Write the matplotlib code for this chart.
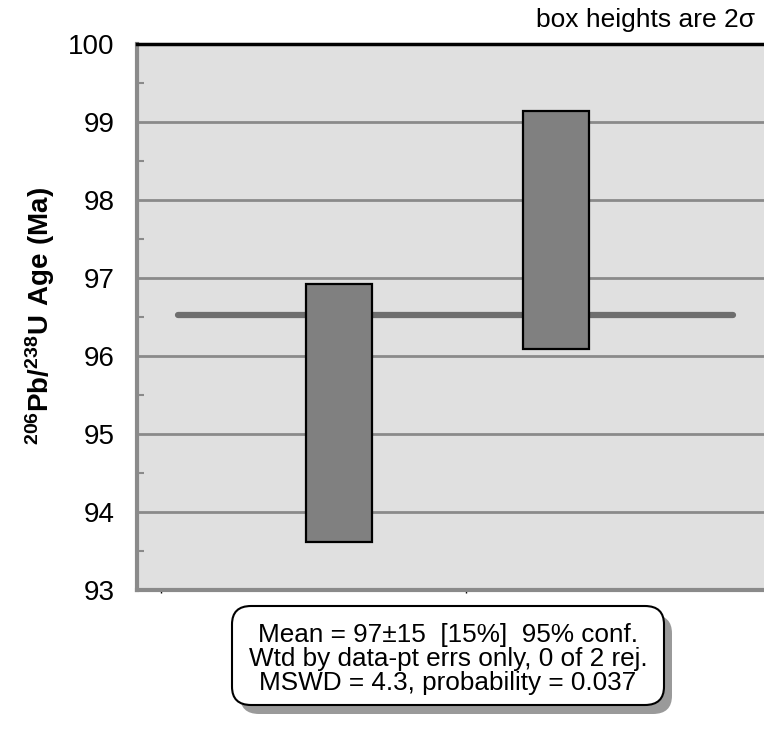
import matplotlib
matplotlib.use('Agg')
import matplotlib.pyplot as plt
from matplotlib.patches import FancyBboxPatch, Rectangle

plt.rcParams['font.family'] = ['Liberation Sans', 'DejaVu Sans']
plt.rcParams['mathtext.fontset'] = 'custom'
plt.rcParams['mathtext.rm'] = 'Liberation Sans'
plt.rcParams['mathtext.bf'] = 'Liberation Sans:bold'

# data: two analyses, 2-sigma box limits (Ma)
spot_pos = [1, 2]
box_low = [93.62, 96.09]
box_high = [96.92, 99.14]
wtd_mean = 96.53
y_ticks = [93, 94, 95, 96, 97, 98, 99, 100]
stats_lines = ['Mean = 97\u00b115  [15%]  95% conf.',
               'Wtd by data-pt errs only, 0 of 2 rej.',
               'MSWD = 4.3, probability = 0.037']

W, H = 764, 733
fig = plt.figure(figsize=(W / 100, H / 100), dpi=100)
ax = fig.add_axes([137 / W, 1 - 590 / H, 627 / W, 546 / H])
ax.set_facecolor('#e0e0e0')

for v in y_ticks[1:-1]:
    ax.axhline(v, color='#8a8a8a', lw=2, zorder=1)

ax.plot([0.258, 2.816], [wtd_mean, wtd_mean], color='#6e6e6e', lw=4.5,
        solid_capstyle='round', zorder=2)

box_w = 0.304
for x, lo, hi in zip(spot_pos, box_low, box_high):
    ax.add_patch(Rectangle((x - box_w / 2, lo), box_w, hi - lo,
                           facecolor='#808080', edgecolor='black', lw=1.6, zorder=3))

ax.set_xlim(0.069, 2.96)
ax.set_ylim(93, 100)
ax.set_yticks(y_ticks)
ax.set_yticks([93.5 + i for i in range(7)], minor=True)
ax.tick_params(axis='y', which='major', length=0, pad=16, labelsize=20)
ax.tick_params(axis='y', which='minor', direction='in', length=5, width=1.5, color='#8a8a8a')
ax.set_xticks([0.18, 1.586])
ax.set_xticklabels([])
ax.tick_params(axis='x', direction='out', length=2.5, width=1, color='black')

ax.spines['left'].set_color('#8a8a8a')
ax.spines['left'].set_linewidth(3)
ax.spines['bottom'].set_color('#8a8a8a')
ax.spines['bottom'].set_linewidth(3)
ax.spines['top'].set_color('black')
ax.spines['top'].set_linewidth(2.5)
ax.spines['right'].set_visible(False)

fig.text(40 / W, 1 - 316 / H, r'$\mathbf{^{206}Pb/^{238}U\ Age\ (Ma)}$', rotation=90,
         ha='center', va='center', fontsize=20)
fig.text(755 / W, 1 - 20 / H, 'box heights are 2\u03c3', ha='right', va='center', fontsize=19)

# stats box with drop shadow
bx, by, bw, bh = 232 / W, 1 - 705 / H, 432 / W, 99 / H
fig.patches.append(FancyBboxPatch((bx + 8 / W, by - 9 / H), bw, bh,
                                  boxstyle='round,pad=0,rounding_size=0.025',
                                  transform=fig.transFigure, facecolor='#9a9a9a',
                                  edgecolor='none', zorder=1))
fig.patches.append(FancyBboxPatch((bx, by), bw, bh,
                                  boxstyle='round,pad=0,rounding_size=0.025',
                                  transform=fig.transFigure, facecolor='white',
                                  edgecolor='black', lw=1.5, zorder=2))
for i, line in enumerate(stats_lines):
    fig.text(448 / W, 1 - (642 + 24 * i) / H, line, ha='center', va='baseline',
             fontsize=18.8, zorder=3)

fig.savefig('out.png', dpi=100)
plt.close()
